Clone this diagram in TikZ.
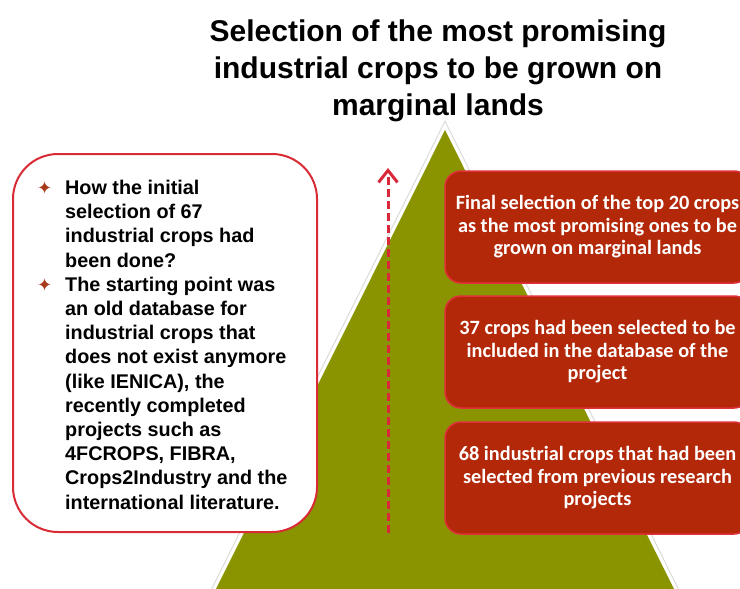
\documentclass[tikz,border=0pt]{standalone}
\usepackage{fontspec}
\setmainfont{Liberation Sans}
\newfontfamily\boxfont{Carlito}
\newfontfamily\symfont{DejaVu Sans}
\usetikzlibrary{arrows.meta}
\definecolor{trigreen}{HTML}{899400}
\definecolor{boxred}{HTML}{B32808}
\definecolor{boxedge}{HTML}{E0303A}
\definecolor{arrowred}{HTML}{D8283A}
\definecolor{leftred}{HTML}{D92B35}
\definecolor{bulred}{HTML}{A83A1A}
\newcommand\lbul{\makebox[27pt][l]{\hspace*{-1pt}\symfont\color{bulred}\fontsize{18}{18}\selectfont ✦}}
\newcommand\lind{\hspace*{27pt}}
\tikzset{
  redbox/.style={rectangle, rounded corners=16pt, fill=boxred, draw=boxedge,
    line width=1.5pt, minimum width=305pt, minimum height=112pt, text=white,
    font=\boxfont\bfseries\fontsize{20.3}{22.5}\selectfont, align=center, inner sep=0pt},
  leftbox/.style={rectangle, rounded corners=45pt, fill=white, draw=leftred,
    line width=2pt, minimum width=304pt, minimum height=378pt, inner sep=0pt},
  lefttext/.style={anchor=north west, inner sep=0pt, align=left,
    font=\bfseries\fontsize{19.8}{24.2}\selectfont},
  titletext/.style={anchor=north, inner sep=0pt, align=center,
    font=\bfseries\fontsize{30}{37}\selectfont},
  dasharrow/.style={draw=arrowred, line width=3pt, dash pattern=on 8pt off 4pt,
    -{Straight Barb[length=12pt,width=19pt]}}
}
\begin{document}
\begin{tikzpicture}[x=1pt,y=-1pt]
\useasboundingbox (0,0) rectangle (740,589);
% triangle with faint halo
\draw[black!14, line width=1pt] (445,121.3) -- (683.9,600) -- (206.1,600) -- cycle;
\path[fill=trigreen, draw=white, line width=1.5pt] (445,128) -- (680.5,600) -- (209.5,600) -- cycle;
% title
\node[titletext] (title) at (438,20) {Selection of the most promising\\industrial crops to be grown on\\marginal lands};
% left box
\node[leftbox] (lb) at (165,343) {};
\node[lefttext] (lt) at (38,180) {\lbul How the initial\\
\lind selection of 67\\
\lind industrial crops had\\
\lind been done?\\
\lbul The starting point was\\
\lind an old database for\\
\lind industrial crops that\\
\lind does not exist anymore\\
\lind (like IENICA), the\\
\lind recently completed\\
\lind projects such as\\
\lind 4FCROPS, FIBRA,\\
\lind Crops2Industry and the\\
\lind international literature.};
% dashed arrow
\coordinate (abot) at (388,533);
\coordinate (atop) at (388,168);
\draw[dasharrow] (abot) -- (atop);
% red boxes
\node[redbox] (topbox) at (597.5,227) {Final selection of the top 20 crops\\as the most promising ones to be\\grown on marginal lands};
\node[redbox] (midbox) at (597.5,352) {37 crops had been selected to be\\included in the database of the\\project};
\node[redbox] (lowbox) at (597.5,478) {68 industrial crops that had been\\selected from previous research\\projects};
\end{tikzpicture}
\end{document}
